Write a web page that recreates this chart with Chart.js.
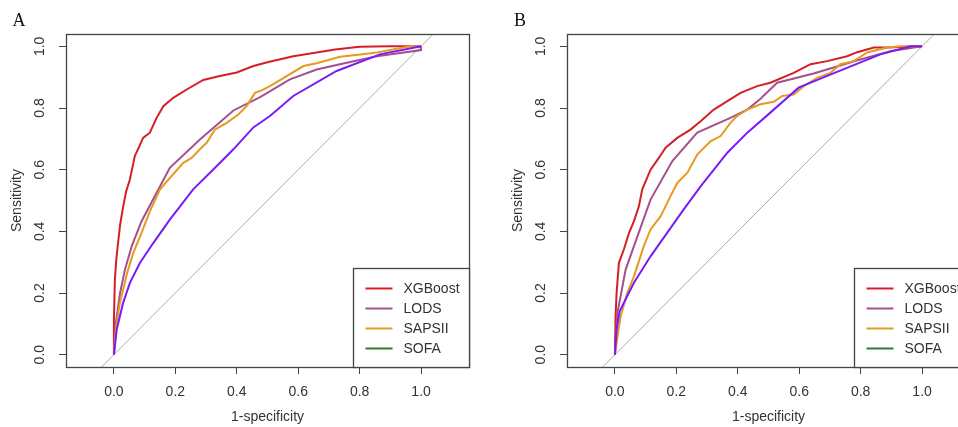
<!DOCTYPE html>
<html><head><meta charset="utf-8">
<script src="https://cdn.jsdelivr.net/npm/chart.js@4/dist/chart.umd.min.js"></script>
<style>
html,body{margin:0;padding:0;width:958px;height:427px;overflow:hidden;background:#fff;}
.panel{position:absolute;top:0;width:479px;height:427px;}
#pa{left:0}
#pb{left:501px}
canvas{display:block}
</style></head><body>
<div class="panel" id="pa"><canvas id="ca" width="479" height="427"></canvas></div>
<div class="panel" id="pb"><canvas id="cb" width="479" height="427"></canvas></div>
<script>
// ---- labels ----
const panelLetters = ['A', 'B'];
const seriesNames = ['XGBoost', 'LODS', 'SAPSII', 'SOFA'];
const xTitle = '1-specificity';
const yTitle = 'Sensitivity';
const xTicks = [0, 0.2, 0.4, 0.6, 0.8, 1.0];
const yTicks = [0, 0.2, 0.4, 0.6, 0.8, 1.0];

// ---- Panel A (1-specificity, sensitivity) ----
const aXGBoostX = [0, 0, 0.003, 0.007, 0.011, 0.02, 0.03, 0.04, 0.052, 0.068, 0.08, 0.095, 0.117, 0.139, 0.161, 0.193, 0.237, 0.291, 0.345, 0.40, 0.454, 0.503, 0.584, 0.66, 0.72, 0.80, 0.9, 1.0];
const aXGBoostY = [0, 0.11, 0.24, 0.30, 0.34, 0.42, 0.48, 0.53, 0.568, 0.644, 0.67, 0.703, 0.72, 0.768, 0.806, 0.833, 0.86, 0.891, 0.904, 0.915, 0.936, 0.949, 0.968, 0.98, 0.99, 0.999, 1.0, 1.0];
const aLODSX = [0, 0.0065, 0.02, 0.036, 0.058, 0.09, 0.139, 0.182, 0.28, 0.389, 0.476, 0.573, 0.66, 0.736, 0.856, 1.0, 1.0];
const aLODSY = [0, 0.104, 0.2, 0.276, 0.352, 0.433, 0.525, 0.606, 0.698, 0.792, 0.835, 0.893, 0.925, 0.942, 0.968, 0.988, 1.0];
const aSAPSIIX = [0, 0.0065, 0.0195, 0.043, 0.063, 0.09, 0.117, 0.15, 0.182, 0.226, 0.253, 0.28, 0.302, 0.329, 0.367, 0.405, 0.432, 0.459, 0.476, 0.508, 0.617, 0.66, 0.736, 0.823, 0.856, 0.964, 1.0];
const aSAPSIIY = [0, 0.084, 0.168, 0.265, 0.33, 0.395, 0.465, 0.536, 0.573, 0.622, 0.638, 0.666, 0.687, 0.73, 0.752, 0.779, 0.806, 0.849, 0.855, 0.871, 0.936, 0.945, 0.966, 0.976, 0.98, 1.0, 1.0];
const aSOFAX = [0, 0.009, 0.03, 0.052, 0.085, 0.128, 0.182, 0.258, 0.334, 0.389, 0.454, 0.508, 0.584, 0.725, 0.866, 1.0];
const aSOFAY = [0, 0.081, 0.168, 0.233, 0.298, 0.362, 0.438, 0.536, 0.611, 0.666, 0.737, 0.774, 0.839, 0.92, 0.974, 1.0];

// ---- Panel B ----
const bXGBoostX = [0, 0.002, 0.0055, 0.013, 0.029, 0.046, 0.062, 0.078, 0.089, 0.116, 0.143, 0.165, 0.203, 0.246, 0.279, 0.322, 0.366, 0.409, 0.463, 0.506, 0.582, 0.637, 0.691, 0.756, 0.789, 0.843, 0.886, 1.0];
const bXGBoostY = [0, 0.124, 0.2, 0.298, 0.341, 0.395, 0.433, 0.481, 0.536, 0.6, 0.638, 0.671, 0.703, 0.73, 0.757, 0.795, 0.822, 0.849, 0.871, 0.882, 0.914, 0.942, 0.952, 0.968, 0.981, 0.996, 0.996, 1.0];
const bLODSX = [0, 0.008, 0.035, 0.062, 0.116, 0.187, 0.268, 0.376, 0.431, 0.474, 0.528, 0.647, 0.79, 0.9, 1.0];
const bLODSY = [0, 0.135, 0.276, 0.352, 0.503, 0.628, 0.72, 0.768, 0.795, 0.83, 0.882, 0.912, 0.955, 0.985, 1.0];
const bSAPSIIX = [0, 0.0185, 0.04, 0.062, 0.094, 0.116, 0.149, 0.181, 0.203, 0.236, 0.268, 0.311, 0.344, 0.376, 0.398, 0.431, 0.474, 0.517, 0.545, 0.582, 0.615, 0.658, 0.702, 0.734, 0.778, 0.821, 0.886, 0.929, 1.0];
const bSAPSIIY = [0, 0.124, 0.2, 0.254, 0.352, 0.406, 0.449, 0.514, 0.557, 0.59, 0.649, 0.692, 0.709, 0.752, 0.774, 0.795, 0.812, 0.82, 0.839, 0.844, 0.871, 0.898, 0.914, 0.942, 0.952, 0.98, 0.996, 1.0, 1.0];
const bSOFAX = [0, 0.0055, 0.015, 0.03, 0.062, 0.116, 0.17, 0.224, 0.279, 0.366, 0.431, 0.506, 0.598, 0.691, 0.864, 0.962, 1.0];
const bSOFAY = [0, 0.08, 0.14, 0.17, 0.233, 0.319, 0.395, 0.471, 0.546, 0.655, 0.72, 0.785, 0.866, 0.904, 0.974, 1.0, 1.0];

// reference (chance) line
const diagX = [-0.2, 1.2];
const diagY = [-0.2, 1.2];

// ---- styles ----
const lineColors = ['#D41F26', '#A4508E', '#E59A22', '#7B1AF7'];
const legendColors = ['#D41F26', '#A4508E', '#E59A22', '#2E7B32'];
const textColor = '#333333';
const frameColor = '#444444';

const zip = (xs, ys) => xs.map((x, i) => ({x: x, y: ys[i]}));

const framePlugin = {
  id: 'rframe',
  afterDraw(chart, args, opts) {
    const ctx = chart.ctx, a = chart.chartArea;
    ctx.save();
    ctx.strokeStyle = frameColor;
    ctx.lineWidth = 1.3;
    const L = Math.round(a.left) + 0.5, T = Math.round(a.top) + 0.5;
    const R = Math.round(a.right) + 0.5, B = Math.round(a.bottom) + 0.5;
    ctx.strokeRect(L, T, R - L, B - T);
    // legend box (bottom-right, R legend style)
    const lx = R - 116, ly = B - 99;
    ctx.fillStyle = '#fff';
    ctx.fillRect(lx, ly, R - lx, B - ly);
    ctx.strokeRect(lx, ly, R - lx, B - ly);
    ctx.font = '14px "Liberation Sans", Arial, sans-serif';
    ctx.textBaseline = 'middle';
    ctx.textAlign = 'left';
    seriesNames.forEach((n, i) => {
      const y = B - 79 + i * 20;
      ctx.strokeStyle = legendColors[i];
      ctx.lineWidth = 2;
      ctx.beginPath();
      ctx.moveTo(R - 104, y);
      ctx.lineTo(R - 77, y);
      ctx.stroke();
      ctx.fillStyle = textColor;
      ctx.fillText(n, R - 66, y + 0.5);
    });
    // panel letter
    ctx.fillStyle = '#111';
    ctx.font = '18px "Liberation Serif", "Times New Roman", serif';
    ctx.textAlign = 'center';
    ctx.textBaseline = 'alphabetic';
    ctx.fillText(opts.letter, 19, 26);
    ctx.restore();
  }
};

function makeChart(canvasId, letter, series) {
  const datasets = series.map((s, i) => ({
    label: seriesNames[i],
    data: zip(s[0], s[1]),
    borderColor: lineColors[i],
    backgroundColor: lineColors[i],
    borderWidth: 2,
    pointRadius: 0,
    tension: 0,
    fill: false,
    order: 4 - i
  }));
  datasets.push({
    label: 'chance',
    data: zip(diagX, diagY),
    borderColor: '#AAAAAA',
    borderWidth: 1,
    pointRadius: 0,
    fill: false,
    order: 10
  });
  const tickFont = {family: '"Liberation Sans", Arial, sans-serif', size: 14};
  return new Chart(document.getElementById(canvasId), {
    type: 'line',
    data: {datasets: datasets},
    plugins: [framePlugin],
    options: {
      responsive: false,
      animation: false,
      devicePixelRatio: 1,
      layout: {padding: {top: 34, right: 10, left: 0, bottom: 0}},
      plugins: {
        legend: {display: false},
        tooltip: {enabled: false},
        rframe: {letter: letter}
      },
      scales: {
        x: {
          type: 'linear',
          min: -0.156, max: 1.156,
          afterBuildTicks: (sc) => { sc.ticks = xTicks.map(v => ({value: v})); },
          afterFit: (sc) => { sc.height = 60; },
          ticks: {
            autoSkip: false, maxRotation: 0, minRotation: 0,
            padding: 10, color: textColor, font: tickFont,
            callback: (v) => Number(v).toFixed(1)
          },
          grid: {drawOnChartArea: false, drawTicks: true, tickLength: 7, color: frameColor, lineWidth: 1},
          border: {display: false},
          title: {display: true, text: xTitle, color: textColor, font: tickFont, padding: {top: 0, bottom: 1}}
        },
        y: {
          type: 'linear',
          min: -0.04, max: 1.04,
          afterBuildTicks: (sc) => { sc.ticks = yTicks.map(v => ({value: v})); },
          afterFit: (sc) => { sc.width = 66; },
          ticks: {
            autoSkip: false, minRotation: 90, maxRotation: 90, crossAlign: 'center',
            padding: 9, color: textColor, font: tickFont,
            callback: (v) => Number(v).toFixed(1)
          },
          grid: {drawOnChartArea: false, drawTicks: true, tickLength: 7, color: frameColor, lineWidth: 1},
          border: {display: false},
          title: {display: true, text: yTitle, color: textColor, font: tickFont, padding: {top: 9, bottom: 0}}
        }
      }
    }
  });
}

makeChart('ca', panelLetters[0], [
  [aXGBoostX, aXGBoostY], [aLODSX, aLODSY], [aSAPSIIX, aSAPSIIY], [aSOFAX, aSOFAY]
]);
makeChart('cb', panelLetters[1], [
  [bXGBoostX, bXGBoostY], [bLODSX, bLODSY], [bSAPSIIX, bSAPSIIY], [bSOFAX, bSOFAY]
]);
</script>
</body></html>
